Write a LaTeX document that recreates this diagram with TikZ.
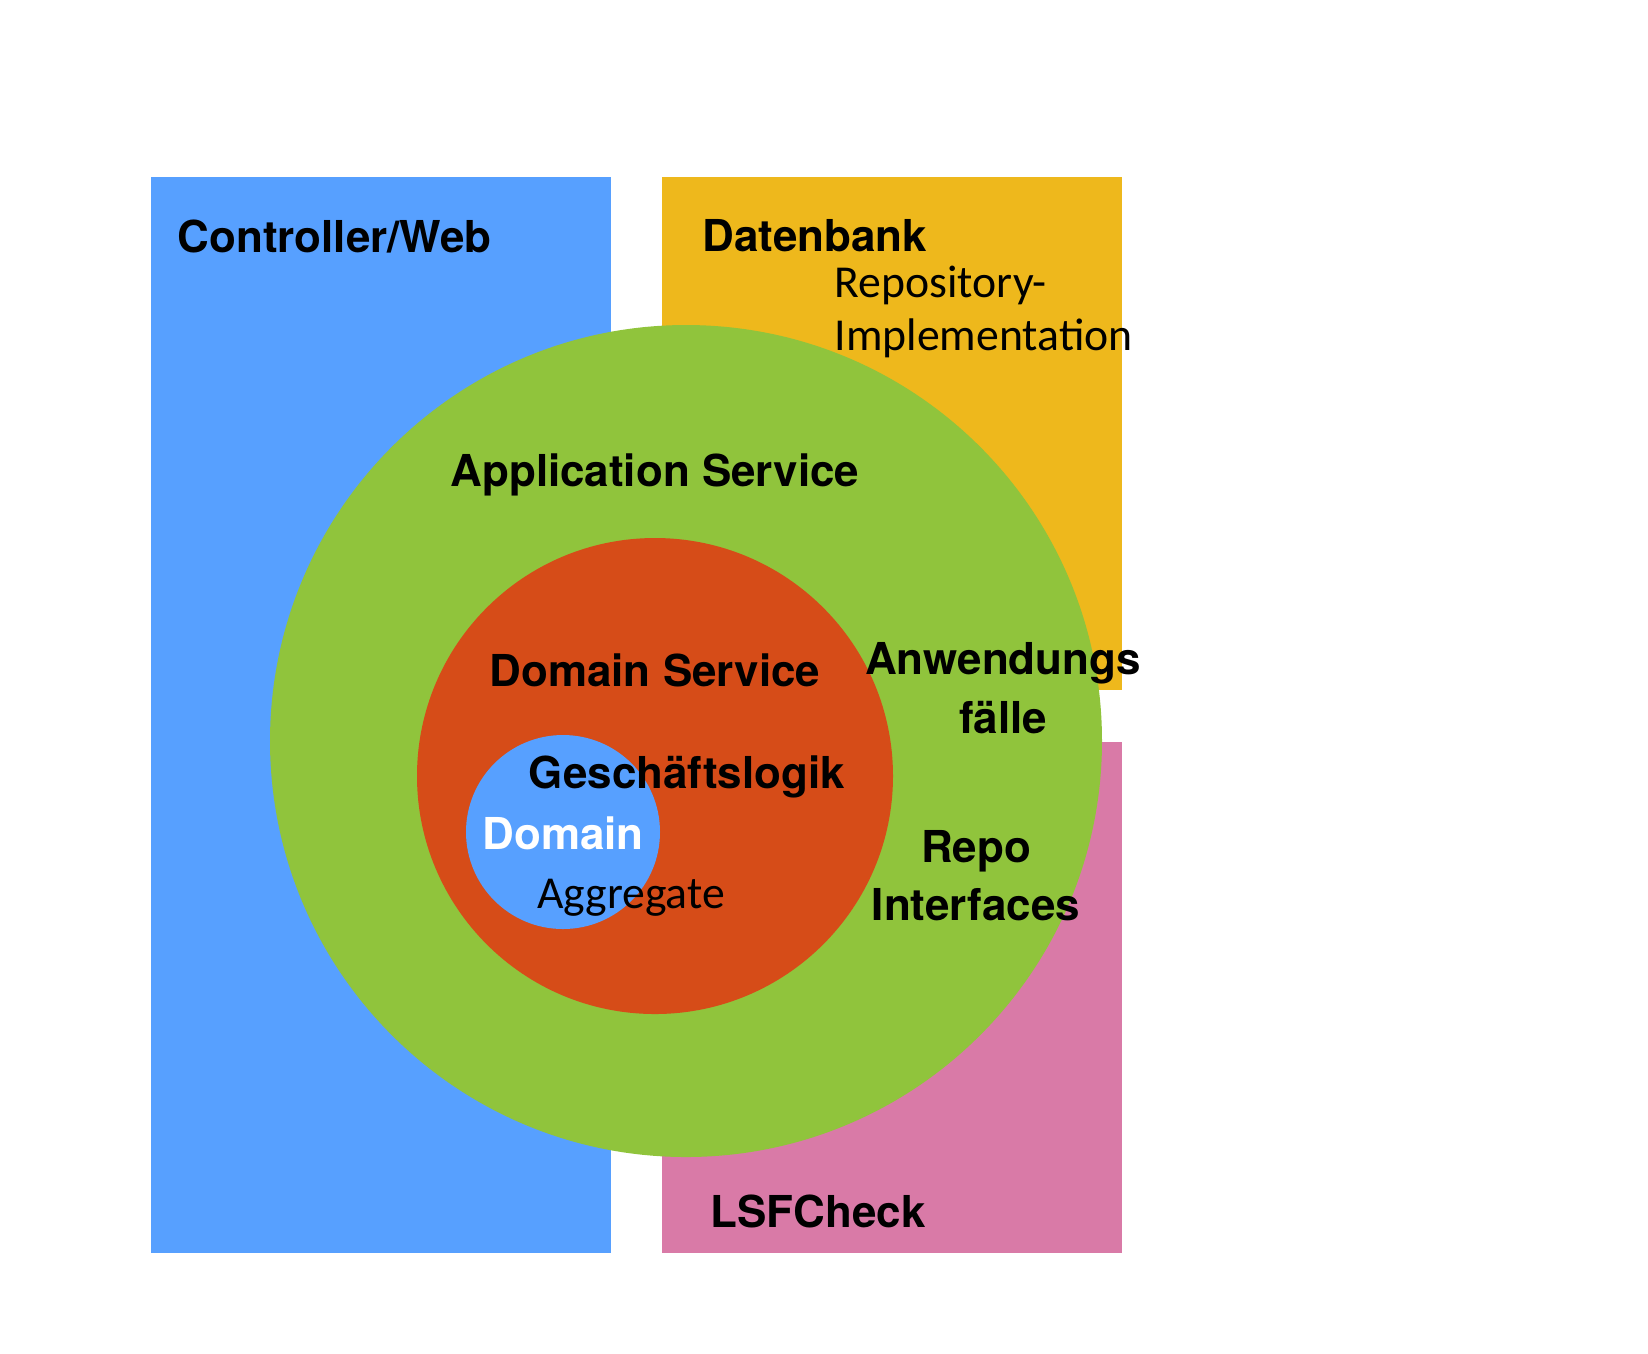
\documentclass[tikz,border=0pt]{standalone}
\usepackage{fontspec}
\setmainfont{TeX Gyre Heros}
\newfontfamily\calib{Carlito}
\definecolor{webBlue}{HTML}{57A0FF}
\definecolor{dbOrange}{HTML}{EEB81C}
\definecolor{lsfPink}{HTML}{D97AA7}
\definecolor{appGreen}{HTML}{90C43C}
\definecolor{domRed}{HTML}{D64C18}
\begin{document}
\begin{tikzpicture}[x=0.01cm,y=-0.01cm,
        layerLabel/.style = {font=\fontsize{12.5}{15}\selectfont\bfseries,inner sep=0pt},
        noteLabel/.style = {font=\calib\fontsize{13}{16}\selectfont,inner sep=0pt},
        layerBox/.style = {draw=none}
        ]
        \useasboundingbox (0,0) rectangle (1648,1353);
        % outer boxes
        \fill[webBlue] (151,177) rectangle (611,1253);
        \fill[dbOrange] (662,177) rectangle (1122,690);
        \fill[lsfPink] (662,742) rectangle (1122,1253);
        % rings
        \fill[appGreen] (686,741) circle (416);
        \fill[domRed] (655,776) circle (238);
        \fill[webBlue] (563,832) circle (97);
        % labels
        \node[layerLabel,anchor=west] (web) at (177,236) {Controller/Web};
        \node[layerLabel,anchor=west] (db) at (702,236) {Datenbank};
        \node[noteLabel,anchor=west] (repoImplA) at (834,285) {Repository-};
        \node[noteLabel,anchor=west] (repoImplB) at (834,338) {Implementation};
        \node[layerLabel] (app) at (655,475) {Application Service};
        \node[layerLabel] (domSrv) at (655,670) {Domain Service};
        \node[layerLabel] (useA) at (1003,663) {Anwendungs};
        \node[layerLabel] (useB) at (1003,718) {fälle};
        \node[layerLabel] (logic) at (687,777) {Geschäftslogik};
        \node[layerLabel,text=white] (dom) at (563,833) {Domain};
        \node[noteLabel] (aggr) at (631,898) {Aggregate};
        \node[layerLabel] (repoA) at (976,851) {Repo};
        \node[layerLabel] (repoB) at (976,905) {Interfaces};
        \node[layerLabel] (lsf) at (818,1211) {LSFCheck};
    \end{tikzpicture}
\end{document}
